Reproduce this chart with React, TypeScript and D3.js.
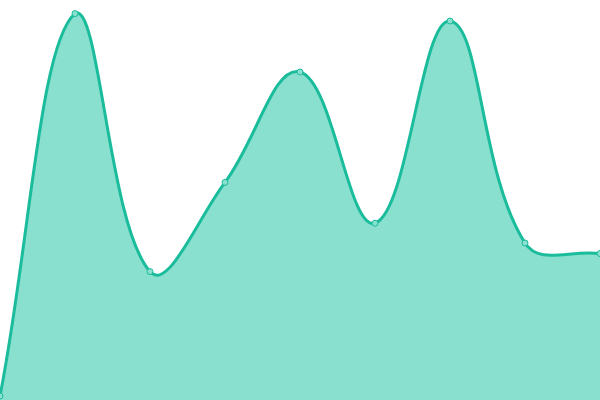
import React from 'react';
import * as d3 from 'd3';

const labels = ['A', 'B', 'C', 'D', 'E', 'F', 'G', 'H', 'I'];
const values = [1, 96.6, 32.1, 54.4, 82, 44.2, 94.75, 39.25, 36.6];

const width = 600;
const height = 400;
const tension = 0.4;

type Pt = [number, number];

// spline with distance-weighted control points (tension 0.4), control points kept inside the area
function splinePath(pts: Pt[], closeToBottom: boolean): string {
  const n = pts.length;
  const ctrl = pts.map((cur, i) => {
    const prev = pts[Math.max(i - 1, 0)];
    const next = pts[Math.min(i + 1, n - 1)];
    const d01 = Math.hypot(cur[0] - prev[0], cur[1] - prev[1]);
    const d12 = Math.hypot(next[0] - cur[0], next[1] - cur[1]);
    const s01 = d01 + d12 ? d01 / (d01 + d12) : 0;
    const s12 = d01 + d12 ? d12 / (d01 + d12) : 0;
    const fa = tension * s01;
    const fb = tension * s12;
    const dx = next[0] - prev[0];
    const dy = next[1] - prev[1];
    const clampX = (v: number) => Math.max(0, Math.min(width, v));
    const clampY = (v: number) => Math.max(0, Math.min(height, v));
    return {
      before: [clampX(cur[0] - fa * dx), clampY(cur[1] - fa * dy)] as Pt,
      after: [clampX(cur[0] + fb * dx), clampY(cur[1] + fb * dy)] as Pt,
    };
  });

  const p = d3.path();
  p.moveTo(pts[0][0], pts[0][1]);
  for (let i = 1; i < n; i++) {
    const a = ctrl[i - 1].after;
    const b = ctrl[i].before;
    p.bezierCurveTo(a[0], a[1], b[0], b[1], pts[i][0], pts[i][1]);
  }
  if (closeToBottom) {
    p.lineTo(pts[n - 1][0], height);
    p.lineTo(pts[0][0], height);
    p.closePath();
  }
  return p.toString();
}

const App: React.FC = () => {
  const x = d3
    .scalePoint<string>()
    .domain(labels)
    .range([0, width]);

  const y = d3.scaleLinear().domain([0, 100]).range([height, 0]);

  const pts: Pt[] = values.map((v, i) => [x(labels[i]) as number, y(v)]);

  return (
    <svg
      width={width}
      height={height}
      style={{ position: 'absolute', top: 0, left: 0, overflow: 'hidden' }}
    >
      <path d={splinePath(pts, true)} fill='#8ae0cf' />
      <path d={splinePath(pts, false)} fill='none' stroke='#1abc9c' strokeWidth={3} />
      {pts.map((pt, i) => (
        <circle
          key={labels[i]}
          cx={pt[0]}
          cy={pt[1]}
          r={3}
          fill='#8ae0cf'
          stroke='#1abc9c'
          strokeWidth={1}
        />
      ))}
    </svg>
  );
};

export default App;
